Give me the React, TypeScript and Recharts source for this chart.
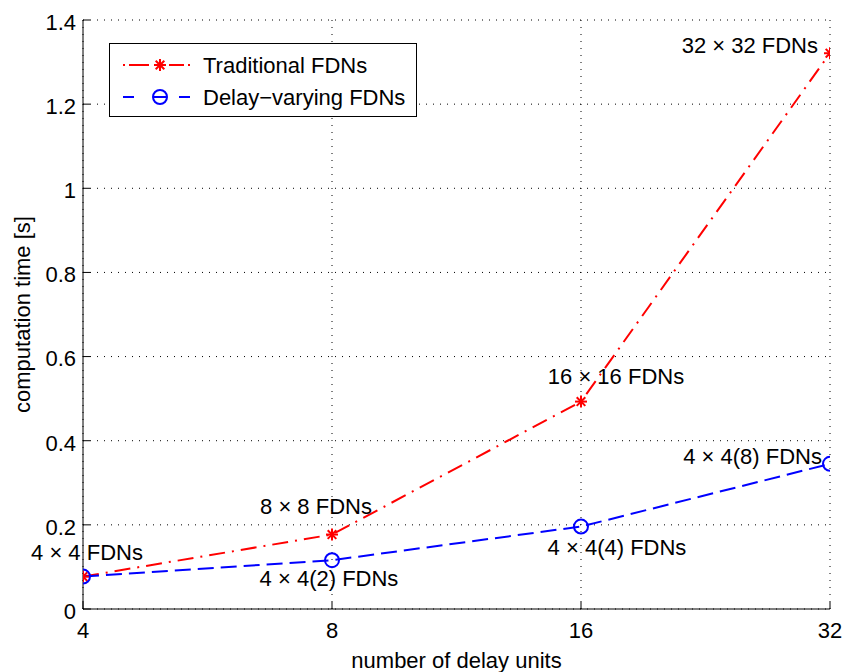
import { LineChart, Line, XAxis, YAxis, CartesianGrid, LabelList, Legend } from "recharts";

const delayUnits = [4, 8, 16, 32];
const traditionalTime = [0.077, 0.177, 0.493, 1.321];
const delayVaryingTime = [0.077, 0.116, 0.196, 0.345];
const traditionalLabels = ["4 × 4 FDNs", "8 × 8 FDNs", "16 × 16 FDNs", "32 × 32 FDNs"];
const delayVaryingLabels = ["", "4 × 4(2) FDNs", "4 × 4(4) FDNs", "4 × 4(8) FDNs"];
const seriesNames = ["Traditional FDNs", "Delay−varying FDNs"];
const yTicks = [0, 0.2, 0.4, 0.6, 0.8, 1, 1.2, 1.4];

const data = delayUnits.map((n, i) => ({
  n,
  trad: traditionalTime[i],
  dv: delayVaryingTime[i],
  tradLabel: traditionalLabels[i],
  dvLabel: delayVaryingLabels[i],
}));

const FONT = "'Liberation Sans', Arial, sans-serif";
const RED = "#ff0000";
const BLUE = "#0000ff";
const TICK = 7;
const RED_DASH = "16 7 2 7";
const BLUE_DASH = "16 7";

// where each annotation sits relative to its point
const tradLabelPos = [
  { dx: 4, dy: -24, anchor: "middle" },
  { dx: -16, dy: -28, anchor: "middle" },
  { dx: 35, dy: -25, anchor: "middle" },
  { dx: -12, dy: -8, anchor: "end" },
];
const dvLabelPos = [
  { dx: 0, dy: 0, anchor: "middle" },
  { dx: -3, dy: 18, anchor: "middle" },
  { dx: 36, dy: 21, anchor: "middle" },
  { dx: -8, dy: -7, anchor: "end" },
];

const Star = ({ cx, cy, size = 6, color = RED }: any) => {
  const d = size * 0.72;
  return (
    <g stroke={color} strokeWidth={2}>
      <line x1={cx - size} y1={cy} x2={cx + size} y2={cy} />
      <line x1={cx} y1={cy - size} x2={cx} y2={cy + size} />
      <line x1={cx - d} y1={cy - d} x2={cx + d} y2={cy + d} />
      <line x1={cx - d} y1={cy + d} x2={cx + d} y2={cy - d} />
    </g>
  );
};

const renderStar = (p: any) => <Star key={`s${p.index}`} cx={p.cx} cy={p.cy} />;
const renderCircle = (p: any) => (
  <circle key={`c${p.index}`} cx={p.cx} cy={p.cy} r={7} fill="none" stroke={BLUE} strokeWidth={2} />
);

const makeLabel = (pos: any[]) => (props: any) => {
  const { index, value } = props;
  if (!value) return null;
  const x = props.x ?? props.viewBox?.x;
  const y = props.y ?? props.viewBox?.y;
  const p = pos[index] || pos[0];
  return (
    <text
      x={x + p.dx}
      y={y + p.dy}
      textAnchor={p.anchor}
      dominantBaseline="central"
      fontSize={22}
      fontFamily={FONT}
      fill="#000"
    >
      {value}
    </text>
  );
};

const BottomTick = ({ x, y, payload }: any) => (
  <g>
    <line x1={x} y1={y} x2={x} y2={y - TICK} stroke="#000" />
    <text x={x} y={y + 29} textAnchor="middle" fontSize={22} fontFamily={FONT} fill="#000">
      {payload.value}
    </text>
  </g>
);

const TopTick = ({ x, y }: any) => <line x1={x} y1={y} x2={x} y2={y + TICK} stroke="#000" />;

const LeftTick = ({ x, y, payload }: any) => (
  <g>
    <line x1={x} y1={y} x2={x + TICK} y2={y} stroke="#000" />
    <text x={x - 7} y={y} dy="0.45em" textAnchor="end" fontSize={22} fontFamily={FONT} fill="#000">
      {payload.value}
    </text>
  </g>
);

const RightTick = ({ x, y }: any) => <line x1={x} y1={y} x2={x - TICK} y2={y} stroke="#000" />;

const LegendBox = () => (
  <svg width={308} height={74} style={{ display: "block" }}>
    <rect x={0.5} y={0.5} width={307} height={73} fill="#fff" stroke="#000" />
    <g stroke={RED} strokeWidth={2}>
      <line x1={14} y1={22} x2={16} y2={22} />
      <line x1={20} y1={22} x2={40} y2={22} />
      <line x1={60} y1={22} x2={75} y2={22} />
      <line x1={79} y1={22} x2={81} y2={22} />
    </g>
    <Star cx={51} cy={22} />
    <text x={94} y={22} dy="0.36em" fontSize={22} fontFamily={FONT} fill="#000">
      {seriesNames[0]}
    </text>
    <g stroke={BLUE} strokeWidth={2}>
      <line x1={14} y1={54} x2={25} y2={54} />
      <line x1={44} y1={54} x2={58} y2={54} />
      <line x1={70} y1={54} x2={81} y2={54} />
    </g>
    <circle cx={51} cy={54} r={7} fill="none" stroke={BLUE} strokeWidth={2} />
    <text x={94} y={54} dy="0.36em" fontSize={22} fontFamily={FONT} fill="#000">
      {seriesNames[1]}
    </text>
  </svg>
);

export default function App() {
  return (
    <div style={{ position: "absolute", left: 0, top: 0, background: "#fff" }}>
      <LineChart width={847} height={672} data={data} margin={{ top: 20, right: 17, left: 0, bottom: 0 }}>
        <CartesianGrid stroke="#000" strokeDasharray="1 6" />
        <XAxis
          dataKey="n"
          type="number"
          scale="log"
          domain={[4, 32]}
          ticks={delayUnits}
          allowDataOverflow
          height={63}
          tickLine={false}
          tickSize={0}
          tickMargin={0}
          stroke="#000"
          tick={<BottomTick />}
          label={{
            value: "number of delay units",
            position: "insideBottom",
            offset: 4,
            fontSize: 22,
            fontFamily: FONT,
            fill: "#000",
          }}
        />
        <XAxis
          xAxisId="top"
          orientation="top"
          dataKey="n"
          type="number"
          scale="log"
          domain={[4, 32]}
          ticks={delayUnits}
          allowDataOverflow
          height={0}
          tickLine={false}
          tickSize={0}
          tickMargin={0}
          stroke="#000"
          tick={<TopTick />}
        />
        <YAxis
          type="number"
          domain={[0, 1.4]}
          ticks={yTicks}
          allowDataOverflow
          width={83}
          tickLine={false}
          tickSize={0}
          tickMargin={0}
          stroke="#000"
          tick={<LeftTick />}
          label={{
            content: ({ viewBox }: any) => {
              const cx = 22;
              const cy = viewBox.y + viewBox.height / 2;
              return (
                <text
                  x={cx}
                  y={cy}
                  transform={`rotate(-90 ${cx} ${cy})`}
                  textAnchor="middle"
                  dominantBaseline="central"
                  fontSize={22}
                  fontFamily={FONT}
                  fill="#000"
                >
                  computation time [s]
                </text>
              );
            },
          }}
        />
        <YAxis
          yAxisId="right"
          orientation="right"
          type="number"
          domain={[0, 1.4]}
          ticks={yTicks}
          allowDataOverflow
          width={0}
          tickLine={false}
          tickSize={0}
          tickMargin={0}
          stroke="#000"
          tick={<RightTick />}
        />
        <Legend
          content={() => <LegendBox />}
          layout="horizontal"
          verticalAlign="middle"
          align="center"
          wrapperStyle={{ left: 109, top: 43, width: 308, height: 74 }}
        />
        <Line
          dataKey="trad"
          name={seriesNames[0]}
          stroke={RED}
          strokeWidth={2}
          strokeDasharray={RED_DASH}
          dot={renderStar}
          isAnimationActive={false}
        >
          <LabelList dataKey="tradLabel" content={makeLabel(tradLabelPos)} />
        </Line>
        <Line
          dataKey="dv"
          name={seriesNames[1]}
          stroke={BLUE}
          strokeWidth={2}
          strokeDasharray={BLUE_DASH}
          dot={renderCircle}
          isAnimationActive={false}
        >
          <LabelList dataKey="dvLabel" content={makeLabel(dvLabelPos)} />
        </Line>
      </LineChart>
    </div>
  );
}
